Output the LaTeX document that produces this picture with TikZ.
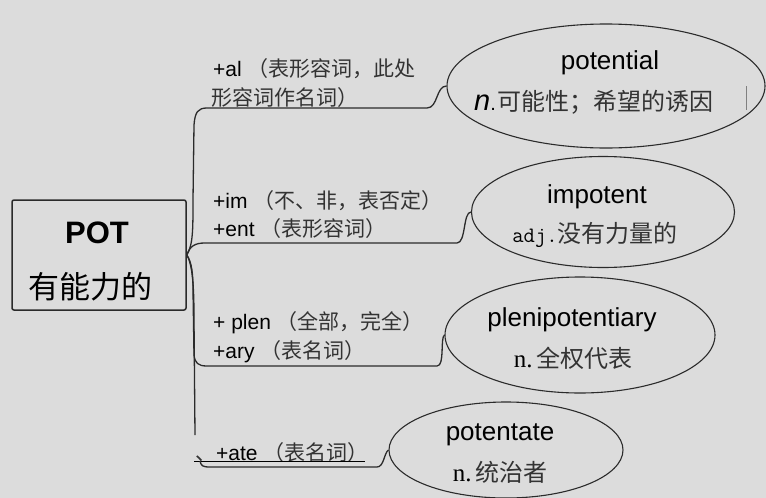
\documentclass[tikz,border=0pt]{standalone}
\usepackage{fontspec}
\setmainfont{Liberation Sans}
\newfontfamily\cjk{Noto Sans CJK SC}
\newfontfamily\serifl{Liberation Serif}
\usetikzlibrary{shapes.geometric}
\definecolor{bg}{HTML}{DCDCDC}
\definecolor{ln}{HTML}{2B2B2B}
\definecolor{zhc}{HTML}{333333}
\newcommand\fs[1]{\fontsize{#1}{#1}\selectfont}
\newcommand\zh[1]{{\cjk\color{zhc}#1}}
\begin{document}
\begin{tikzpicture}[x=1pt,y=-1pt,
  conn/.style={draw=ln,line width=1.3pt},
  ell/.style={draw=ln,line width=1.1pt,ellipse,inner sep=0pt},
  lbl/.style={anchor=west,inner sep=0pt,font=\fs{21}},
  word/.style={inner sep=0pt,font=\fs{26}},
  defn/.style={inner sep=0pt}]
\fill[bg] (0,0) rectangle (766,498);
\useasboundingbox (0,0) rectangle (766,498);

% root
\node[draw=ln,line width=1.5pt,rounded corners=2pt,minimum width=174pt,minimum height=110pt,inner sep=0pt] (root) at (99,255) {};
\node[inner sep=0pt,font=\bfseries\fs{31}] (pot) at (97,233) {POT};
\node[inner sep=0pt,font=\cjk\fs{31}] (potzh) at (90,287) {有能力的};

% ellipses
\node[ell,minimum width=318pt,minimum height=124pt] (e1) at (606,86) {};
\node[ell,minimum width=263pt,minimum height=111pt] (e2) at (603,212) {};
\node[ell,minimum width=270pt,minimum height=116pt] (e3) at (580,335) {};
\node[ell,minimum width=234pt,minimum height=96pt] (e4) at (506,450) {};

% ellipse texts
\node[word] (w1) at (610,63) {potential};
\node[defn,anchor=west] (d1) at (474,102) {{\itshape\fs{29}n}{\fs{20}.}\,\zh{\fs{24}可能性；希望的诱因}};
\draw[draw=gray,line width=0.8pt] (746,86) -- (746,110);
\node[word] (w2) at (597,197) {impotent};
\node[defn] (d2) at (595,235) {{\ttfamily\fs{22}adj.}\zh{\fs{24}没有力量的}};
\node[word] (w3) at (572,320) {plenipotentiary};
\node[defn] (d3) at (573,358) {{\serifl\fs{25}n.} \zh{\fs{24}全权代表}};
\node[word] (w4) at (500,435) {potentate};
\node[defn] (d4) at (500,472) {{\serifl\fs{25}n.} \zh{\fs{24}统治者}};

% branch labels
\node[lbl] (t1a) at (213,69) {+al \zh{（表形容词，此处}};
\node[lbl] (t1b) at (211,98) {\zh{形容词作名词）}};
\node[lbl] (t2a) at (213,201) {+im \zh{（不、非，表否定）}};
\node[lbl] (t2b) at (213,229) {+ent \zh{（表形容词）}};
\node[lbl] (t3a) at (213,323) {+ plen \zh{（全部，完全）}};
\node[lbl] (t3b) at (213,352) {+ary \zh{（表名词）}};
\node[lbl] (t4) at (195,453) {\zh{、}+ate \zh{（表名词）}};
\draw[line width=0.8pt] (194,461) -- (365,461);

% connectors
\draw[conn] (root.east) .. controls (193,245) and (193,230) .. (193,200) -- (194,125)
  .. controls (195,112) and (198,108) .. (207,108) -- (427,108)
  .. controls (438,108) and (436,86) .. (e1.west);
\draw[conn] (root.east) .. controls (190,246) and (195,243) .. (205,243) -- (457,243)
  .. controls (466,243) and (463,212) .. (e2.west);
\draw[conn] (root.east) .. controls (192,262) and (193,275) .. (193,290) -- (194,355)
  .. controls (195,363) and (198,366) .. (207,366) -- (437,366)
  .. controls (445,366) and (440,338) .. (e3.west);
\coordinate (s4end) at (195,435);
\draw[conn] (root.east) .. controls (193,265) and (194,290) .. (194,320) -- (s4end);
\coordinate (b4) at (200,461);
\draw[conn] (b4) .. controls (201,466) and (203,467) .. (210,467) -- (377,467)
  .. controls (384,467) and (384,453) .. (e4.west);
\end{tikzpicture}
\end{document}
